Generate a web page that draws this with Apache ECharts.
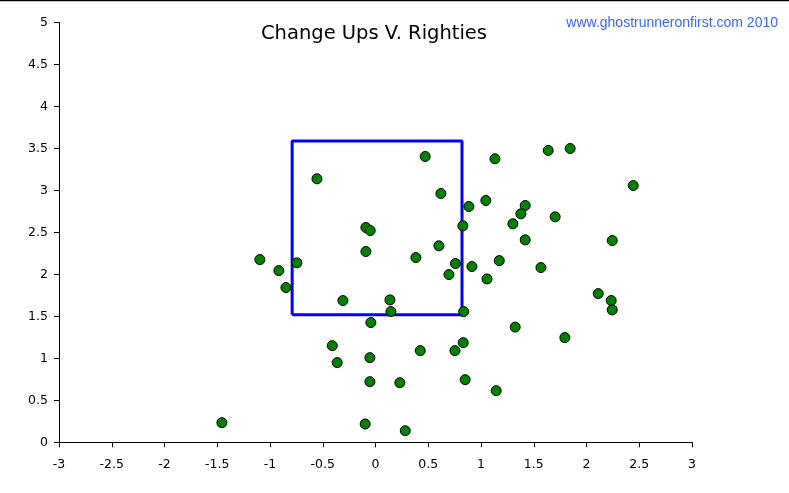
<!DOCTYPE html>
<html>
<head>
<meta charset="utf-8">
<script src="https://cdn.jsdelivr.net/npm/echarts@6/dist/echarts.min.js"></script>
<style>html,body{margin:0;padding:0;background:#fff;}#c{width:789px;height:493px;}</style>
</head>
<body>
<div id="c"></div>
<script>
var xValues = [0.471,1.132,-0.555,0.620,1.046,0.885,0.828,-0.091,-0.050,0.601,-0.091,-1.096,-0.745,0.383,0.758,0.914,1.173,-0.916,0.696,1.057,-0.849,-0.309,0.137,0.146,0.836,-0.044,1.637,1.845,2.443,1.419,1.378,1.302,1.703,1.419,2.244,1.568,2.111,2.234,2.244,1.324,1.795,-0.410,0.831,0.424,0.753,-0.363,-0.053,-0.053,0.231,0.850,1.144,-0.098,0.282,-1.456];
var yValues = [3.404,3.377,3.138,2.963,2.880,2.808,2.578,2.558,2.522,2.340,2.272,2.176,2.137,2.200,2.129,2.093,2.164,2.045,1.998,1.946,1.843,1.688,1.696,1.557,1.557,1.426,3.476,3.499,3.058,2.820,2.721,2.602,2.685,2.411,2.403,2.081,1.771,1.688,1.577,1.372,1.247,1.151,1.187,1.092,1.092,0.949,1.008,0.722,0.710,0.746,0.615,0.218,0.138,0.234];
var boxX = [-0.79, 0.82, 0.82, -0.79, -0.79];
var boxY = [1.52, 1.52, 3.59, 3.59, 1.52];
var titleText = "Change Ups V. Righties";
var creditText = "www.ghostrunneronfirst.com 2010";

var pts = xValues.map(function(x, i){ return [x, yValues[i]]; });
var box = boxX.map(function(x, i){ return [x, boxY[i]]; });

var chart = echarts.init(document.getElementById('c'));
var axisCommon = {
  axisLine: {show: true, onZero: false, lineStyle: {color: '#000', width: 1}},
  axisTick: {show: true, inside: false, length: 5, lineStyle: {color: '#000'}},
  splitLine: {show: false}
};
chart.setOption({
  animation: false,
  backgroundColor: '#fff',
  title: [{
    text: titleText, left: 369, top: 19, textAlign: 'center',
    textStyle: {fontFamily: 'DejaVu Sans', fontWeight: 'normal', fontSize: 19.5, color: '#000'}
  }, {
    text: creditText, right: 6, top: 11,
    textStyle: {fontFamily: 'Liberation Sans', fontWeight: 'normal', fontSize: 14, color: '#3a66ff'}
  }],
  grid: {left: 59, right: 97, top: 22.5, bottom: 50.7},
  xAxis: Object.assign({type: 'value', min: -3, max: 3, interval: 0.5}, axisCommon,
    {axisLabel: {color: '#000', fontFamily: 'DejaVu Sans', fontSize: 12.5, margin: 16}}),
  yAxis: Object.assign({type: 'value', min: 0, max: 5, interval: 0.5}, axisCommon,
    {axisLabel: {color: '#000', fontFamily: 'DejaVu Sans', fontSize: 12.5, margin: 11}}),
  graphic: [{type: 'line', shape: {x1: 0, y1: 0.5, x2: 789, y2: 0.5}, style: {stroke: '#000', lineWidth: 1.5}}],
  series: [{
    type: 'line', data: box, showSymbol: false, symbol: 'none', z: 1,
    lineStyle: {color: '#0000ff', width: 3}
  }, {
    type: 'scatter', data: pts, symbol: 'circle', symbolSize: 10, z: 3,
    itemStyle: {color: '#008000', borderColor: '#000', borderWidth: 1, opacity: 1}
  }]
});
</script>
</body>
</html>
